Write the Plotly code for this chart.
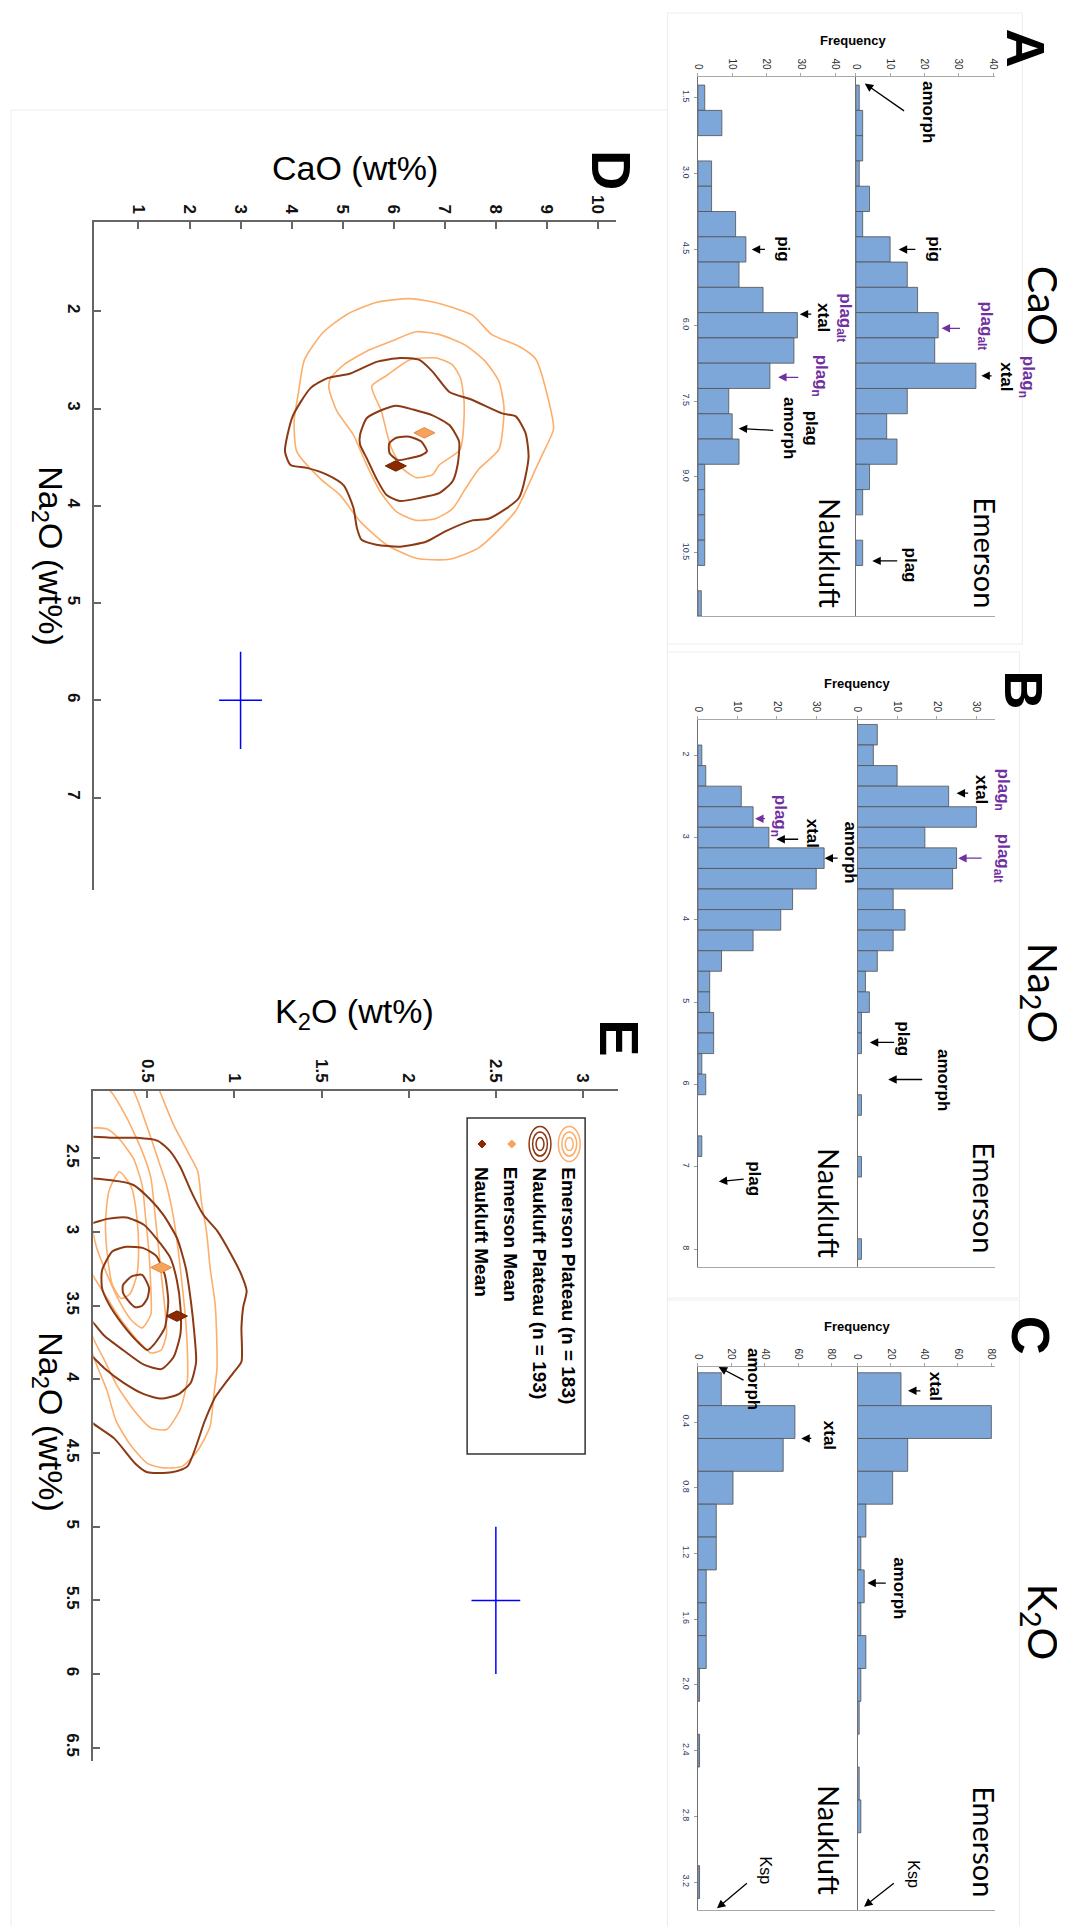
import plotly.graph_objects as go

W, H = 1065, 1926

# ---------------- data ----------------
CAO_BINS = [1.5, 2.0, 2.5, 3.0, 3.5, 4.0, 4.5, 5.0, 5.5, 6.0, 6.5,
            7.0, 7.5, 8.0, 8.5, 9.0, 9.5, 10.0, 10.5, 11.0, 11.5]
CAO_EMERSON = [1, 2, 2, 1, 4, 2, 10, 15, 18, 24, 23, 35, 15, 9, 12, 4, 2, 0, 2, 0, 0]
CAO_NAUKLUFT = [2, 7, 0, 4, 4, 11, 14, 12, 19, 29, 28, 21, 9, 10, 12, 2, 2, 2, 2, 0, 1]
CAO_TICKS = [1.5, 3.0, 4.5, 6.0, 7.5, 9.0, 10.5]
CAO_TICKTEXT = ["1.5", "3.0", "4.5", "6.0", "7.5", "9.0", "10.5"]

NA2O_BINS = [1.75, 2.0, 2.25, 2.5, 2.75, 3.0, 3.25, 3.5, 3.75, 4.0, 4.25, 4.5, 4.75,
             5.0, 5.25, 5.5, 5.75, 6.0, 6.25, 6.5, 6.75, 7.0, 7.25, 7.5, 7.75, 8.0]
NA2O_EMERSON = [5, 4, 10, 23, 30, 17, 25, 24, 9, 12, 9, 5, 2, 3, 1, 1, 0, 0, 1, 0, 0, 1, 0, 0, 0, 1]
NA2O_NAUKLUFT = [0, 1, 2, 11, 14, 18, 32, 30, 24, 21, 14, 6, 3, 3, 4, 4, 1, 2, 0, 0, 1, 0, 0, 0, 0, 0]
NA2O_TICKS = [2, 3, 4, 5, 6, 7, 8]
NA2O_TICKTEXT = ["2", "3", "4", "5", "6", "7", "8"]

K2O_BINS = [0.2, 0.4, 0.6, 0.8, 1.0, 1.2, 1.4, 1.6, 1.8, 2.0, 2.2, 2.4, 2.6, 2.8, 3.0, 3.2]
K2O_EMERSON = [26, 80, 30, 21, 5, 2, 4, 2, 5, 2, 1, 0, 1, 2, 0, 0]
K2O_NAUKLUFT = [14, 58, 51, 21, 11, 11, 5, 5, 5, 1, 0, 1, 0, 0, 0, 1]
K2O_TICKS = [0.4, 0.8, 1.2, 1.6, 2.0, 2.4, 2.8, 3.2]
K2O_TICKTEXT = ["0.4", "0.8", "1.2", "1.6", "2.0", "2.4", "2.8", "3.2"]

# Panel D contours: (CaO, Na2O) pairs
D_EMERSON_1 = [(6.31, 1.87), (6.89, 1.92), (7.54, 2.04), (7.92, 2.24), (8.45, 2.36), (8.78, 2.49),
               (9.03, 2.91), (9.13, 3.21), (8.94, 3.44), (8.78, 3.62), (8.39, 4.05), (7.67, 4.43),
               (7.09, 4.55), (6.44, 4.54), (5.86, 4.40), (5.34, 4.16), (4.95, 3.89), (4.56, 3.72),
               (4.10, 3.44), (4.05, 3.12), (4.13, 2.85), (4.25, 2.50), (4.61, 2.22), (5.09, 2.03),
               (5.65, 1.91)]
D_EMERSON_2 = [(6.44, 2.21), (6.90, 2.24), (7.41, 2.35), (7.80, 2.52), (8.06, 2.72), (8.16, 3.00),
               (8.06, 3.42), (7.67, 3.62), (7.41, 3.82), (7.15, 4.03), (6.83, 4.13), (6.44, 4.15),
               (6.05, 4.06), (5.73, 3.85), (5.47, 3.58), (5.21, 3.27), (4.89, 3.03), (4.73, 2.79),
               (4.76, 2.69), (5.02, 2.55), (5.47, 2.41), (5.99, 2.30)]
D_EMERSON_3 = [(5.57, 2.77), (5.86, 2.66), (6.31, 2.50), (6.83, 2.48), (7.15, 2.55), (7.31, 2.69),
               (7.38, 2.96), (7.30, 3.42), (6.89, 3.58), (6.76, 3.68), (6.44, 3.71), (6.18, 3.62),
               (5.95, 3.40), (5.86, 3.24), (5.76, 3.03)]
D_NAUKLUFT_1 = [(3.87, 3.44), (4.02, 3.08), (4.37, 2.79), (4.69, 2.69), (5.15, 2.64), (5.66, 2.52),
                (6.12, 2.48), (6.50, 2.50), (6.76, 2.62), (7.09, 2.83), (7.53, 2.91), (8.12, 3.05),
                (8.39, 3.08), (8.58, 3.25), (8.64, 3.50), (8.45, 3.92), (7.87, 4.13), (7.54, 4.15),
                (7.02, 4.26), (6.63, 4.37), (6.12, 4.42), (5.66, 4.40), (5.37, 4.35), (5.28, 4.23),
                (5.21, 4.02), (5.02, 3.79), (4.69, 3.68), (4.30, 3.61), (3.98, 3.58)]
D_NAUKLUFT_2 = [(5.34, 3.27), (5.47, 3.10), (5.79, 3.01), (6.05, 2.97), (6.38, 3.01), (6.76, 3.07),
                (7.09, 3.17), (7.28, 3.34), (7.25, 3.58), (7.15, 3.75), (6.89, 3.87), (6.50, 3.92),
                (6.12, 3.95), (5.86, 3.89), (5.66, 3.72), (5.47, 3.51), (5.34, 3.37)]
D_NAUKLUFT_3 = [(5.91, 3.36), (6.05, 3.30), (6.31, 3.29), (6.54, 3.34), (6.65, 3.44), (6.54, 3.48),
                (6.31, 3.51), (6.08, 3.53), (5.92, 3.46)]
D_MEAN_EMERSON = (6.60, 3.25)
D_MEAN_NAUKLUFT = (6.04, 3.59)
D_ERROR = (3.0, 6.0, 0.42, 0.5)      # CaO, Na2O, +/-CaO, +/-Na2O

# Panel E contours: (K2O, Na2O) pairs
E_EMERSON_1 = [(0.50, 1.85), (0.57, 2.04), (0.65, 2.27), (0.73, 2.45), (0.79, 2.59), (0.81, 2.79),
               (0.84, 3.00), (0.86, 3.24), (0.89, 3.50), (0.90, 3.92), (0.88, 4.12), (0.86, 4.32),
               (0.79, 4.48), (0.70, 4.59), (0.59, 4.60), (0.50, 4.57), (0.40, 4.44), (0.32, 4.28),
               (0.27, 4.08), (0.19, 3.84), (0.12, 3.50), (0.08, 2.80), (0.10, 2.00), (0.30, 1.80)]
E_EMERSON_2 = [(0.32, 1.90), (0.42, 2.04), (0.50, 2.29), (0.56, 2.50), (0.61, 2.68), (0.65, 2.90),
               (0.68, 3.15), (0.70, 3.36), (0.72, 3.60), (0.73, 3.81), (0.73, 4.00), (0.69, 4.20),
               (0.61, 4.34), (0.52, 4.33), (0.43, 4.22), (0.33, 4.05), (0.25, 3.86), (0.19, 3.72),
               (0.10, 3.30), (0.05, 2.50), (0.15, 1.90)]
E_EMERSON_3 = [(0.18, 2.00), (0.285, 2.04), (0.38, 2.22), (0.47, 2.45), (0.52, 2.63), (0.54, 2.83),
               (0.56, 3.06), (0.58, 3.29), (0.60, 3.51), (0.61, 3.69), (0.58, 3.80), (0.52, 3.82),
               (0.44, 3.73), (0.34, 3.58), (0.26, 3.43), (0.17, 3.25), (0.10, 2.80), (0.10, 2.20)]
E_EMERSON_4 = [(0.17, 2.30), (0.27, 2.30), (0.34, 2.37), (0.42, 2.50), (0.47, 2.68), (0.49, 2.90),
               (0.51, 3.15), (0.52, 3.38), (0.52, 3.56), (0.47, 3.65), (0.41, 3.60), (0.34, 3.47),
               (0.27, 3.29), (0.21, 3.11), (0.17, 2.88), (0.14, 2.50)]
E_EMERSON_5 = [(0.34, 2.59), (0.41, 2.70), (0.44, 2.90), (0.45, 3.11), (0.44, 3.29), (0.40, 3.42),
               (0.35, 3.45), (0.30, 3.36), (0.27, 3.15), (0.26, 2.93), (0.28, 2.72)]
E_NAUKLUFT_1 = [(0.10, 2.37), (0.30, 2.36), (0.44, 2.36), (0.56, 2.38), (0.63, 2.45), (0.69, 2.56),
                (0.75, 2.72), (0.82, 2.88), (0.90, 2.99), (0.98, 3.15), (1.04, 3.29), (1.07, 3.40),
                (1.05, 3.51), (1.04, 3.65), (1.04, 3.88), (0.99, 3.96), (0.89, 4.12), (0.83, 4.28),
                (0.73, 4.59), (0.64, 4.63), (0.50, 4.63), (0.43, 4.57), (0.31, 4.40), (0.19, 4.30),
                (0.10, 4.20)]
E_NAUKLUFT_2 = [(0.10, 2.65), (0.30, 2.65), (0.42, 2.68), (0.51, 2.77), (0.59, 2.88), (0.67, 3.04),
                (0.72, 3.24), (0.75, 3.47), (0.77, 3.69), (0.78, 3.88), (0.75, 4.02), (0.68, 4.10),
                (0.58, 4.13), (0.48, 4.10), (0.36, 4.02), (0.25, 3.92), (0.18, 3.84), (0.10, 3.78)]
E_NAUKLUFT_3 = [(0.10, 2.95), (0.18, 2.94), (0.27, 2.91), (0.38, 2.90), (0.48, 2.95), (0.55, 3.04),
                (0.63, 3.17), (0.67, 3.33), (0.69, 3.51), (0.69, 3.69), (0.65, 3.85), (0.58, 3.93),
                (0.48, 3.90), (0.36, 3.80), (0.25, 3.70), (0.18, 3.60), (0.10, 3.50)]
E_NAUKLUFT_4 = [(0.24, 3.26), (0.30, 3.13), (0.38, 3.10), (0.48, 3.11), (0.55, 3.16), (0.60, 3.29),
                (0.62, 3.47), (0.60, 3.65), (0.54, 3.76), (0.50, 3.80), (0.44, 3.74), (0.36, 3.63),
                (0.28, 3.49), (0.24, 3.38)]
E_NAUKLUFT_5 = [(0.36, 3.36), (0.41, 3.30), (0.47, 3.29), (0.51, 3.38), (0.50, 3.45), (0.47, 3.50),
                (0.43, 3.51), (0.38, 3.45), (0.36, 3.41)]
E_MEAN_EMERSON = (0.58, 3.24)
E_MEAN_NAUKLUFT = (0.67, 3.57)
E_ERROR = (2.5, 5.5, 0.14, 0.5)      # K2O, Na2O, +/-K2O, +/-Na2O

LEGEND_LABELS = ["Emerson Plateau (n = 183)", "Naukluft Plateau (n = 193)", "Emerson Mean", "Naukluft Mean"]

# ---------------- styling ----------------
BAR_FILL = "#7DA6D9"
BAR_EDGE = "#505050"
LIGHT = "#FDAE6B"
DARK = "#8C3A14"
MEAN_LIGHT = "#F7A35C"
MEAN_DARK = "#8B2A00"
PURPLE = "#7030A0"


def PX(x):
    return x / W


def PY(y):
    return 1 - y / H


def aname(i, t):
    return f"{t}axis" if i == 1 else f"{t}axis{i}"


def aref(i, t):
    return t if i == 1 else f"{t}{i}"


fig = go.Figure()
layout = dict(width=W, height=H, margin=dict(l=0, r=0, t=0, b=0),
              paper_bgcolor="white", plot_bgcolor="rgba(0,0,0,0)", showlegend=False)
annotations = []
shapes = []

# histogram panels geometry (pixels)
PANELS = [
    dict(bins=CAO_BINS, em=CAO_EMERSON, nk=CAO_NAUKLUFT, bw=0.5, top=69, bottom=608,
         crange=(1.09, 11.75), xn0=690.7, xe0=850.0, xe1=990.0, em_max=40.46, nk_max=46.04,
         fticks=[0, 10, 20, 30, 40], cticks=CAO_TICKS, ctext=CAO_TICKTEXT),
    dict(bins=NA2O_BINS, em=NA2O_EMERSON, nk=NA2O_NAUKLUFT, bw=0.25, top=711.5, bottom=1258.7,
         crange=(1.565, 8.215), xn0=690.7, xe0=851.7, xe1=990.0, em_max=34.6, nk_max=40.45,
         fticks=[0, 10, 20, 30], cticks=NA2O_TICKS, ctext=NA2O_TICKTEXT),
    dict(bins=K2O_BINS, em=K2O_EMERSON, nk=K2O_NAUKLUFT, bw=0.2, top=1359, bottom=1902,
         crange=(0.065, 3.37), xn0=690.7, xe0=851.7, xe1=990.0, em_max=81.96, nk_max=95.4,
         fticks=[0, 20, 40, 60, 80], cticks=K2O_TICKS, ctext=K2O_TICKTEXT),
]

for k, p in enumerate(PANELS):
    ie, inn = 2 * k + 1, 2 * k + 2
    ydom = [PY(p["bottom"]), PY(p["top"])]
    yrange = [p["crange"][1], p["crange"][0]]
    for idx, vals, x0, x1, fmax, is_nk in [(ie, p["em"], p["xe0"], p["xe1"], p["em_max"], False),
                                          (inn, p["nk"], p["xn0"], p["xe0"], p["nk_max"], True)]:
        ys = [b for b, v in zip(p["bins"], vals) if v > 0]
        xs = [v for v in vals if v > 0]
        fig.add_trace(go.Bar(y=ys, x=xs, orientation="h", width=p["bw"],
                             marker=dict(color=BAR_FILL, line=dict(color=BAR_EDGE, width=0.8)),
                             xaxis=aref(idx, "x"), yaxis=aref(idx, "y"), hoverinfo="skip"))
        layout[aname(idx, "x")] = dict(
            domain=[PX(x0), PX(x1)], range=[0, fmax], side="top", anchor=aref(idx, "y"),
            showline=True, linecolor="#A8A8A8", linewidth=1, mirror=True,
            ticks="outside", ticklen=3, tickcolor="#A8A8A8", tickvals=p["fticks"],
            tickangle=90, tickfont=dict(size=10, color="#2b2b2b", family="Liberation Sans"),
            showgrid=False, zeroline=False)
        ya = dict(domain=ydom, range=yrange, anchor=aref(idx, "x"), side="left",
                  showline=True, linecolor="#707070", linewidth=1.3, showgrid=False, zeroline=False)
        if is_nk:
            ya.update(ticks="outside", ticklen=3, tickcolor="#9a9a9a", tickvals=p["cticks"],
                      ticktext=p["ctext"], tickangle=90,
                      tickfont=dict(size=9, color="#1f3a66", family="Liberation Sans"))
        else:
            ya.update(ticks="", showticklabels=False)
        layout[aname(idx, "y")] = ya


def to_px(idx, f, c):
    """data (frequency, oxide) of histogram axis idx -> pixel position"""
    p = PANELS[(idx - 1) // 2]
    if idx % 2 == 0:
        x0, x1, fmax = p["xn0"], p["xe0"], p["nk_max"]
    else:
        x0, x1, fmax = p["xe0"], p["xe1"], p["em_max"]
    c0, c1 = p["crange"]
    return x0 + f / fmax * (x1 - x0), p["top"] + (c - c0) / (c1 - c0) * (p["bottom"] - p["top"])


def arrow(idx, hf, hc, tf, tc, color="black"):
    annotations.append(dict(x=hf, y=hc, ax=tf, ay=tc, xref=aref(idx, "x"), yref=aref(idx, "y"),
                            axref=aref(idx, "x"), ayref=aref(idx, "y"), text="", showarrow=True,
                            arrowhead=2, arrowsize=1.3, arrowwidth=1.3, arrowcolor=color, standoff=0))


def ptext(x, y, text, size, family="Liberation Sans", bold=False, angle=90, color="black",
          xanchor="center", yanchor="middle"):
    t = f"<b>{text}</b>" if bold else text
    annotations.append(dict(x=PX(x), y=PY(y), xref="paper", yref="paper", text=t, showarrow=False,
                            textangle=angle, font=dict(family=family, size=size, color=color),
                            xanchor=xanchor, yanchor=yanchor, align="center"))


def label(idx, f, c, text, color="black", size=17, bold=True):
    x, y = to_px(idx, f, c)
    ptext(x, y, text, size, bold=bold, color=color)


PSP = f"<span style='color:{PURPLE}'>"
# A (CaO)
arrow(1, 2.6, 1.22, 14.5, 1.78)
arrow(1, 12.5, 4.5, 17.8, 4.5)
arrow(1, 25.0, 6.06, 30.8, 6.06, PURPLE)
arrow(1, 36.6, 7.0, 40.0, 7.0)
arrow(1, 4.8, 10.66, 12.5, 10.66)
label(1, 21.0, 1.78, "amorph")
label(1, 23.1, 4.5, "pig")
label(1, 37.6, 6.02, "plag<sub>alt</sub>", PURPLE)
label(1, 47.0, 7.02, PSP + "plag<sub>n</sub></span><br>xtal")
label(1, 15.9, 10.74, "plag")
arrow(2, 15.7, 4.5, 20.0, 4.5)
arrow(2, 29.7, 5.78, 33.5, 5.78)
arrow(2, 23.4, 7.03, 29.7, 7.03, PURPLE)
arrow(2, 11.9, 8.04, 22.4, 8.08)
label(2, 24.9, 4.5, "pig")
label(2, 39.8, 5.85, PSP + "plag<sub>alt</sub></span><br>xtal")
label(2, 35.5, 6.99, "plag<sub>n</sub>", PURPLE)
label(2, 29.9, 8.04, "plag<br>amorph")
# B (Na2O)
arrow(3, 25.0, 2.46, 28.3, 2.46)
arrow(3, 25.4, 3.25, 31.7, 3.25, PURPLE)
arrow(3, 3.1, 5.49, 9.6, 5.49)
arrow(3, 7.75, 5.94, 16.7, 5.94)
label(3, 34.0, 2.42, PSP + "plag<sub>n</sub></span><br>xtal")
label(3, 36.3, 3.25, "plag<sub>alt</sub>", PURPLE)
label(3, 11.7, 5.45, "plag")
label(3, 21.7, 5.94, "amorph")
arrow(4, 14.5, 2.77, 17.4, 2.77, PURPLE)
arrow(4, 19.9, 3.02, 25.8, 3.02)
arrow(4, 32.1, 3.25, 35.8, 3.25)
arrow(4, 5.3, 7.18, 12.0, 7.15)
label(4, 20.4, 2.74, "plag<sub>n</sub>", PURPLE)
label(4, 29.1, 2.95, "xtal")
label(4, 38.8, 3.18, "amorph")
label(4, 14.5, 7.14, "plag")
# C (K2O)
arrow(5, 30.2, 0.21, 38.5, 0.21)
arrow(5, 5.9, 1.38, 17.8, 1.38)
arrow(5, 3.9, 3.35, 22.6, 3.20)
label(5, 46.4, 0.18, "xtal")
label(5, 24.7, 1.41, "amorph")
label(5, 33.5, 3.15, "Ksp", bold=False, size=16)
arrow(6, 12.4, 0.065, 28.2, 0.15)
arrow(6, 61.8, 0.50, 68.7, 0.50)
arrow(6, 11.4, 3.36, 30.2, 3.20)
label(6, 33.2, 0.14, "amorph")
label(6, 78.6, 0.48, "xtal")
label(6, 40.1, 3.13, "Ksp", bold=False, size=16)

# panel titles / labels for histogram panels
for (lx, ly, letter), (fx, fy), (ox, oy, oxide), (ey, ny) in [
        ((1022, 40, "A"), (848, 33), (1040, 298, "CaO"), (545, 545)),
        ((1020, 682, "B"), (852, 676), (1037, 985, "Na<sub>2</sub>O"), (1190, 1195)),
        ((1027, 1327, "C"), (852, 1318), (1037, 1614, "K<sub>2</sub>O"), (1834, 1832))]:
    ptext(lx, ly, letter, 54, bold=True)
    ptext(fx, fy, "Frequency", 13, bold=True, angle=0)
    ptext(ox, oy, oxide, 41, family="Lato")
    ptext(980, ey, "Emerson", 29, family="Lato")
    ptext(824, ny, "Naukluft", 29, family="Lato")

# faint panel frames
for x0, y0, x1, y1 in [(660, 5, 1018, 636), (660, 644, 1015, 1290), (660, 1292, 1015, 1926),
                       (-2, 102, 660, 2000)]:
    shapes.append(dict(type="rect", xref="paper", yref="paper", x0=PX(x0), x1=PX(x1),
                       y0=PY(y1), y1=PY(y0), line=dict(color="#EDEDED", width=1)))

# ---------------- scatter / contour panels ----------------
SC_AXES = [
    dict(idx=7, x0=81.6, x1=608, y0=213.8, y1=882, xr=[0.128, 10.35], yr=[7.95, 1.08],
         xt=[1, 2, 3, 4, 5, 6, 7, 8, 9, 10], yt=[2, 3, 4, 5, 6, 7]),
    dict(idx=8, x0=81.0, x1=610, y0=1082.7, y1=1753, xr=[0.19, 3.2], yr=[6.59, 2.04],
         xt=[0.5, 1, 1.5, 2, 2.5, 3], yt=[2.5, 3, 3.5, 4, 4.5, 5, 5.5, 6, 6.5]),
]
for a in SC_AXES:
    i = a["idx"]
    common = dict(showline=True, linecolor="#666666", linewidth=2, ticks="inside", ticklen=7,
                  tickwidth=2, tickcolor="#666666", tickangle=90, showgrid=False, zeroline=False,
                  tickfont=dict(size=17, color="#111111", family="Liberation Sans", weight="bold"))
    layout[aname(i, "x")] = dict(domain=[PX(a["x0"]), PX(a["x1"])], range=a["xr"], side="top",
                                 anchor=aref(i, "y"), tickvals=a["xt"], **common)
    layout[aname(i, "y")] = dict(domain=[PY(a["y1"]), PY(a["y0"])], range=a["yr"], side="left",
                                 anchor=aref(i, "x"), tickvals=a["yt"], ticklabelstandoff=4, **common)


def contour(pts, color, width, idx):
    xs = [q[0] for q in pts] + [pts[0][0]]
    ys = [q[1] for q in pts] + [pts[0][1]]
    fig.add_trace(go.Scatter(x=xs, y=ys, mode="lines",
                             line=dict(color=color, width=width, shape="spline", smoothing=0.6),
                             xaxis=aref(idx, "x"), yaxis=aref(idx, "y"), hoverinfo="skip"))


for c in [D_EMERSON_1, D_EMERSON_2, D_EMERSON_3]:
    contour(c, LIGHT, 1.6, 7)
for c in [D_NAUKLUFT_1, D_NAUKLUFT_2, D_NAUKLUFT_3]:
    contour(c, DARK, 2.0, 7)
for c in [E_EMERSON_1, E_EMERSON_2, E_EMERSON_3, E_EMERSON_4, E_EMERSON_5]:
    contour(c, LIGHT, 1.6, 8)
for c in [E_NAUKLUFT_1, E_NAUKLUFT_2, E_NAUKLUFT_3, E_NAUKLUFT_4, E_NAUKLUFT_5]:
    contour(c, DARK, 2.0, 8)

for idx, me, mn, err in [(7, D_MEAN_EMERSON, D_MEAN_NAUKLUFT, D_ERROR),
                         (8, E_MEAN_EMERSON, E_MEAN_NAUKLUFT, E_ERROR)]:
    for m, col, lc in [(me, MEAN_LIGHT, "#E58B3E"), (mn, MEAN_DARK, "#6B2000")]:
        fig.add_trace(go.Scatter(x=[m[0]], y=[m[1]], mode="markers",
                                 marker=dict(symbol="diamond-wide", size=15, color=col,
                                             line=dict(color=lc, width=1)),
                                 xaxis=aref(idx, "x"), yaxis=aref(idx, "y"), hoverinfo="skip"))
    fig.add_trace(go.Scatter(x=[err[0]], y=[err[1]], mode="markers",
                             marker=dict(size=1, color="rgba(0,0,0,0)"),
                             error_x=dict(type="data", array=[err[2]], color="#0000FF", thickness=1.5, width=0),
                             error_y=dict(type="data", array=[err[3]], color="#0000FF", thickness=1.5, width=0),
                             xaxis=aref(idx, "x"), yaxis=aref(idx, "y"), hoverinfo="skip"))

# axis titles & panel letters for D / E
ptext(345, 160, "CaO (wt%)", 34, angle=0)
ptext(36, 548, "Na<sub>2</sub>O (wt%)", 34)
ptext(604, 162, "D", 56, bold=True)
ptext(344, 1005, "K<sub>2</sub>O (wt%)", 34, angle=0)
ptext(36, 1414, "Na<sub>2</sub>O (wt%)", 34)
ptext(612, 1030, "E", 56, bold=True)

# legend of panel E (drawn rotated like the figure)
shapes.append(dict(type="rect", xref="paper", yref="paper", x0=PX(458), x1=PX(577),
                   y0=PY(1446), y1=PY(1110), line=dict(color="#333333", width=1.5),
                   fillcolor="white", layer="below"))
for cx, col in [(561, LIGHT), (531.5, DARK)]:
    for rx, ry in [(11, 17.5), (7.5, 12), (4, 6.5)]:
        shapes.append(dict(type="circle", xref="paper", yref="paper", x0=PX(cx - rx), x1=PX(cx + rx),
                           y0=PY(1136 + ry), y1=PY(1136 - ry), line=dict(color=col, width=1.5)))
for cx, col in [(503, MEAN_LIGHT), (473, MEAN_DARK)]:
    shapes.append(dict(type="path", xref="paper", yref="paper",
                       path=f"M {PX(cx - 4)},{PY(1136)} L {PX(cx)},{PY(1140)} L {PX(cx + 4)},{PY(1136)} L {PX(cx)},{PY(1132)} Z",
                       fillcolor=col, line=dict(color=col, width=1)))
for cx, txt in zip([560, 531, 502, 473], LEGEND_LABELS):
    ptext(cx, 1157, txt, 19, bold=True, yanchor="top")

layout["annotations"] = annotations
layout["shapes"] = shapes
fig.update_layout(**layout)
fig.write_html("out.html")
